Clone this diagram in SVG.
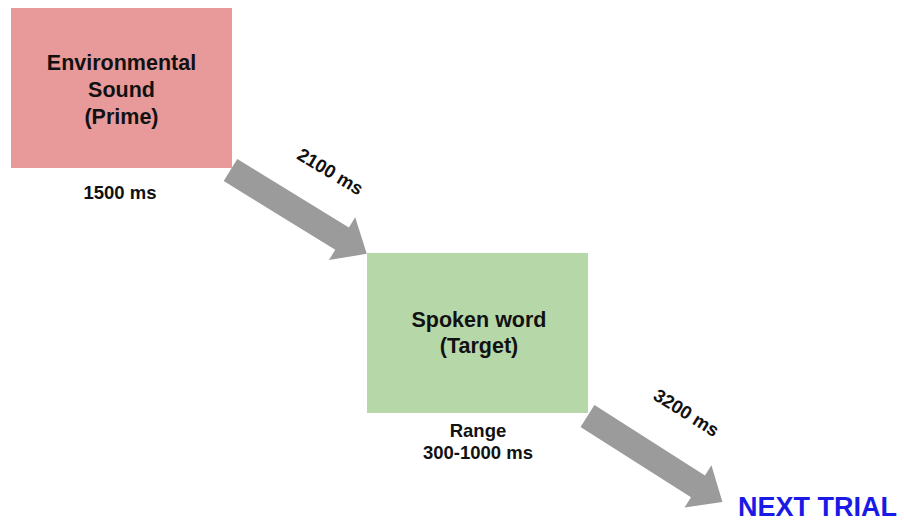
<svg xmlns="http://www.w3.org/2000/svg" width="904" height="523" viewBox="0 0 904 523">
  <defs>
    <style>
      .lbl { font-family: "Liberation Sans", Arial, sans-serif; font-weight: bold; fill: #111; text-anchor: middle; }
      .big { font-size: 21.5px; }
      .small { font-size: 18.5px; }
      .arrow { fill: #9b9b9b; }
    </style>
    <!-- block arrow pointing along +x, tail at origin -->
    <polygon id="blockArrow" points="0,-13 131,-13 131,-25 160,0 131,25 131,13 0,13"/>
  </defs>
  <rect width="904" height="523" fill="#ffffff"/>

  <g id="connectors">
    <use href="#blockArrow" class="arrow" transform="translate(230.5,170) rotate(31.6)"/>
    <use href="#blockArrow" class="arrow" transform="translate(587.5,416) rotate(32.5)"/>
    <text class="lbl small" transform="translate(327,177) rotate(31)">2100 ms</text>
    <text class="lbl small" transform="translate(683,418) rotate(32)">3200 ms</text>
  </g>

  <g id="prime">
    <rect x="11" y="8" width="221" height="160" fill="#e89a9a"/>
    <text class="lbl big" x="121.5" y="69.5">Environmental</text>
    <text class="lbl big" x="121.5" y="96.5">Sound</text>
    <text class="lbl big" x="121.5" y="123.5">(Prime)</text>
    <text class="lbl small" x="120" y="199">1500 ms</text>
  </g>

  <g id="target">
    <rect x="367" y="253" width="221" height="160" fill="#b6d7a8"/>
    <text class="lbl big" x="479" y="327">Spoken word</text>
    <text class="lbl big" x="479" y="353">(Target)</text>
    <text class="lbl small" x="478" y="436.5">Range</text>
    <text class="lbl small" x="478" y="459">300-1000 ms</text>
  </g>

  <g id="next-trial">
    <text x="817.5" y="516" font-family="'Liberation Sans', Arial, sans-serif" font-weight="bold" font-size="27" fill="#1a1ae6" text-anchor="middle">NEXT TRIAL</text>
  </g>
</svg>
